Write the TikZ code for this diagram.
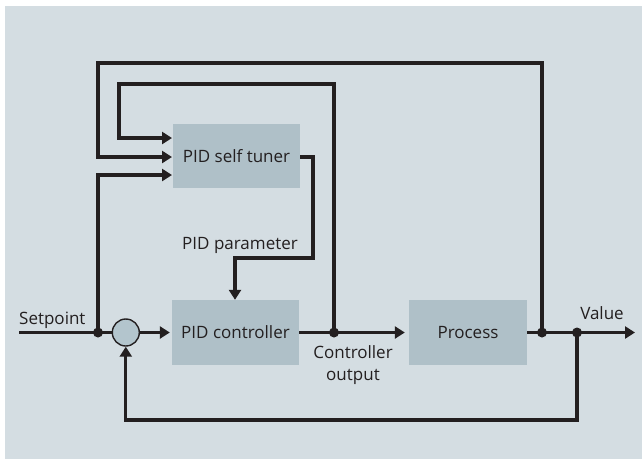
\documentclass[tikz,border=0pt]{standalone}
\usepackage{fontspec}
\setmainfont{Open Sans}
\usetikzlibrary{arrows.meta,calc}
\definecolor{bgc}{HTML}{D4DDE2}
\definecolor{boxc}{HTML}{AFC0C8}
\definecolor{circc}{HTML}{B3C5CD}
\definecolor{linec}{HTML}{231F20}
\begin{document}
\begin{tikzpicture}[x=1pt,y=-1pt,
  blk/.style={fill=boxc,draw=none,inner sep=0pt,font=\fontsize{17}{19}\selectfont,text=linec},
  wire/.style={draw=linec,line width=3.1pt},
  arr/.style={wire,-{Triangle[length=10pt,width=12pt]}},
  jdot/.style={circle,fill=linec,inner sep=0pt,minimum size=10pt},
  lbl/.style={font=\fontsize{17}{22}\selectfont,text=linec,inner sep=0pt,align=center}]
\useasboundingbox (0,0) rectangle (642,459);
\fill[bgc] (5,6) rectangle (642,459);
% blocks
\node[blk,minimum width=127pt,minimum height=64pt] (tuner) at (236.5,156) {PID self tuner};
\node[blk,minimum width=127pt,minimum height=65pt] (ctrl) at (235.5,332.5) {PID controller};
\node[blk,minimum width=118pt,minimum height=65pt] (proc) at (468,332.5) {Process};
\node[circle,fill=circc,draw=linec,line width=1.4pt,minimum size=27pt,inner sep=0pt] (sum) at (125.8,332.5) {};
% junctions
\coordinate (sp0) at (19,332.5);
\node[jdot] (j1) at (98,332.5) {};
\node[jdot] (j2) at (334,332.5) {};
\node[jdot] (j3) at (542,332.5) {};
\node[jdot] (j4) at (577,332.5) {};
\coordinate (out) at (635,332.5);
% tuner inputs
\coordinate (ti1) at (172,138);
\coordinate (ti2) at (172,157);
\coordinate (ti3) at (172,175);
\coordinate (to) at (300,157);
% main path
\draw[wire] (sp0) -- (sum.west);
\draw[arr,shorten >=2pt] (sum.east) -- (ctrl.west);
\draw[wire] (ctrl.east) -- (j2.center);
\draw[arr,shorten >=4pt] (j2.center) -- (proc.west);
\draw[wire] (proc.east) -- (j4.center);
\draw[arr] (j4.center) -- (out);
% feedback
\draw[arr] (j4.center) -- (577,420) -- (125.8,420) -- (sum.south);
% setpoint to tuner
\draw[arr] (j1.center) -- (98,175) -- (ti3);
% value to tuner
\draw[arr] (j3.center) -- (542,63) -- (98,63) -- (98,157) -- (ti2);
% controller output to tuner
\draw[arr] (j2.center) -- (334,84) -- (119,84) -- (119,138) -- (ti1);
% tuner to controller
\draw[arr] (to) -- (313,157) -- (313,258) -- (235,258) -- (ctrl.north-|235,0);
% labels
\node[lbl,anchor=base west] (lsp) at (19,324) {Setpoint};
\node[lbl] (lval) at (602,313) {Value};
\node[lbl] (lco) at (353,365) {Controller\\output};
\node[lbl] (lpp) at (240,245) {PID parameter};
\end{tikzpicture}
\end{document}
